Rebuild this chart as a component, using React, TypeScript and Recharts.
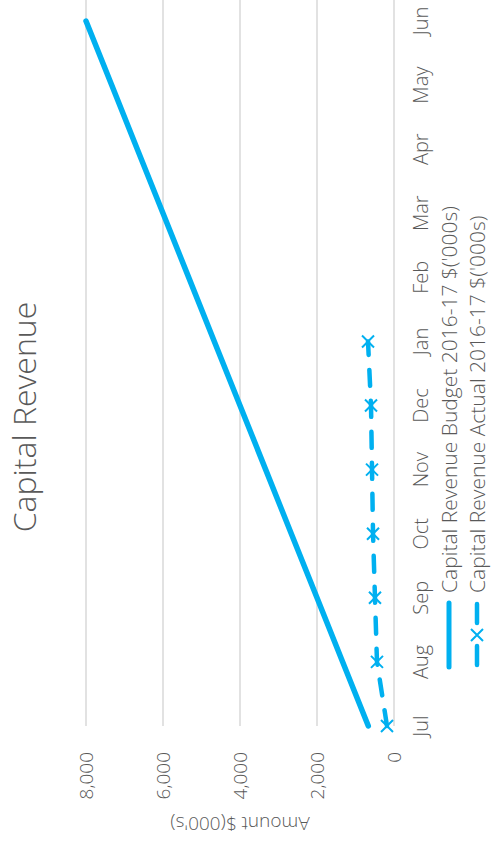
import { LineChart, Line, XAxis, YAxis, CartesianGrid, Legend } from 'recharts'

const months = ['Jul', 'Aug', 'Sep', 'Oct', 'Nov', 'Dec', 'Jan', 'Feb', 'Mar', 'Apr', 'May', 'Jun']
const budget = [667, 1333, 2000, 2667, 3333, 4000, 4667, 5333, 6000, 6667, 7333, 8000]
const actual = [182, 442, 494, 545, 571, 597, 675, null, null, null, null, null]
const yTicks = [0, 2000, 4000, 6000, 8000]
const seriesOrder = ['budget', 'actual']

const BLUE = '#00b0f0'
const TEXT = '#595959'
const FONT = '"Open Sans", sans-serif'

const data = months.map((m, i) => ({ month: m, budget: budget[i], actual: actual[i] }))

function Cross(props: any) {
  const { cx, cy } = props
  if (cx == null || cy == null || props.value == null) return null
  return (
    <path
      d={`M${cx - 6},${cy - 6}L${cx + 6},${cy + 6}M${cx - 6},${cy + 6}L${cx + 6},${cy - 6}`}
      stroke={BLUE}
      strokeWidth={2}
      fill="none"
    />
  )
}

function LegendBox({ payload }: any) {
  const items = [...(payload || [])].sort(
    (a: any, b: any) => seriesOrder.indexOf(a.dataKey) - seriesOrder.indexOf(b.dataKey)
  )
  return (
    <div style={{ fontFamily: FONT, fontWeight: 300, fontSize: 21, color: TEXT }}>
      {items.map((p: any) => (
        <div key={p.dataKey} style={{ display: 'flex', alignItems: 'center', height: 28 }}>
          <svg width={70} height={16} style={{ marginRight: 7, flex: 'none' }}>
            {p.dataKey === 'budget' ? (
              <line x1={3} y1={8} x2={67} y2={8} stroke={BLUE} strokeWidth={5} strokeLinecap="round" />
            ) : (
              <g>
                <line x1={24} y1={8} x2={5} y2={8} stroke={BLUE} strokeWidth={4.5} strokeLinecap="round" />
                <line x1={66} y1={8} x2={47} y2={8} stroke={BLUE} strokeWidth={4.5} strokeLinecap="round" />
                <path d="M29,2L41,14M29,14L41,2" stroke={BLUE} strokeWidth={2} fill="none" />
              </g>
            )}
          </svg>
          <span style={{ whiteSpace: 'nowrap' }}>{p.value}</span>
        </div>
      ))}
    </div>
  )
}

export default function App() {
  return (
    <div style={{ position: 'absolute', left: 0, top: 0, width: 494, height: 848, overflow: 'hidden', background: '#fff' }}>
      <div
        style={{
          position: 'absolute',
          left: 0,
          top: 0,
          width: 848,
          height: 494,
          transformOrigin: '0 0',
          transform: 'translate(0px, 848px) rotate(-90deg)',
        }}
      >
        <div
          style={{
            position: 'absolute',
            top: 0,
            left: 0,
            width: 848,
            height: 48,
            lineHeight: '48px',
            textAlign: 'center',
            fontFamily: FONT,
            fontWeight: 300,
            fontSize: 32,
            color: TEXT,
            paddingLeft: 14,
            boxSizing: 'border-box',
          }}
        >
          Capital Revenue
        </div>
        <LineChart width={848} height={494} data={data} margin={{ top: 86, right: 0, bottom: 70, left: 0 }}>
          <CartesianGrid vertical={false} stroke="#d9d9d9" strokeWidth={1.5} />
          <XAxis
            dataKey="month"
            axisLine={false}
            tickLine={false}
            tickSize={0}
            tickMargin={20}
            height={30}
            padding={{ left: 0, right: 21 }}
            interval={0}
            tick={{ fontSize: 20, fill: TEXT, fontFamily: FONT, fontWeight: 300 }}
          />
          <YAxis
            width={122}
            domain={[0, 8000]}
            ticks={yTicks}
            axisLine={false}
            tickLine={false}
            tickSize={0}
            tickMargin={26}
            tickFormatter={(v: number) => v.toLocaleString('en-US')}
            tick={{ fontSize: 19, fill: TEXT, fontFamily: FONT, fontWeight: 300 }}
            label={{
              value: "Amount $(000's)",
              angle: -90,
              position: 'insideLeft',
              offset: 24,
              style: { textAnchor: 'middle', fontSize: 19, fill: TEXT, fontFamily: FONT, fontWeight: 300 },
            }}
          />
          <Legend
            layout="horizontal"
            align="center"
            verticalAlign="middle"
            wrapperStyle={{ top: 435, left: 178, width: 660, height: 60 }}
            content={<LegendBox />}
          />
          <Line
            type="linear"
            dataKey="budget"
            name="Capital Revenue Budget 2016-17 $('000s)"
            stroke={BLUE}
            strokeWidth={5.5}
            strokeLinecap="round"
            dot={false}
            activeDot={false}
            isAnimationActive={false}
          />
          <Line
            type="linear"
            dataKey="actual"
            name="Capital Revenue Actual 2016-17 $('000s)"
            stroke={BLUE}
            strokeWidth={4.5}
            strokeLinecap="round"
            strokeDasharray="16 15"
            dot={<Cross />}
            activeDot={false}
            isAnimationActive={false}
          />
        </LineChart>
      </div>
    </div>
  )
}
